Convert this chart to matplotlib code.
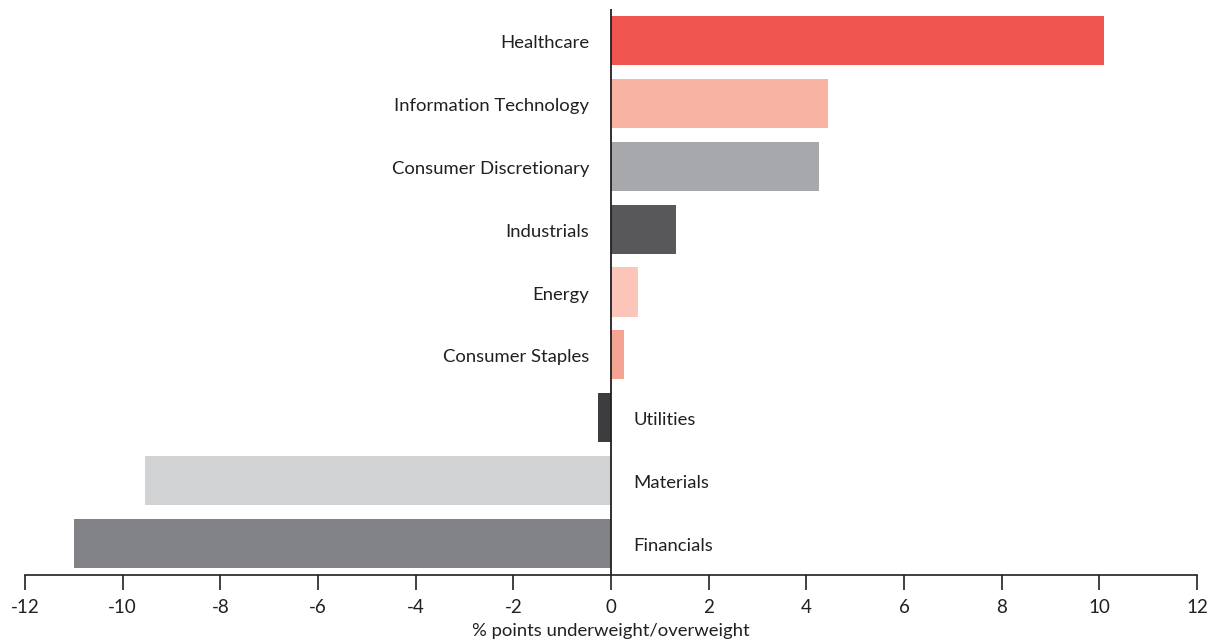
import matplotlib
matplotlib.use('Agg')
import matplotlib.pyplot as plt

# sector over/underweight, % points
sectors = ['Healthcare', 'Information Technology', 'Consumer Discretionary',
           'Industrials', 'Energy', 'Consumer Staples', 'Utilities',
           'Materials', 'Financials']
values = [10.1, 4.45, 4.25, 1.33, 0.55, 0.27, -0.27, -9.55, -11.0]
colours = ['#F05550', '#F9B3A3', '#A7A8AB', '#58585A', '#FBC5B9',
           '#F5A392', '#3D3D3F', '#D1D2D4', '#818285']
ticks = list(range(-12, 13, 2))

plt.rcParams['font.family'] = ['Lato', 'DejaVu Sans']

fig = plt.figure(figsize=(12.16, 6.44), dpi=100)
ax = fig.add_axes([0.0206, 0.1071, 0.9638, 0.8789])

ypos = range(len(sectors))
ax.barh(ypos, values, height=0.78, color=colours, zorder=2)
ax.axvline(0, color='#231F20', lw=1.3, zorder=3)

for y, name, v in zip(ypos, sectors, values):
    if v >= 0:
        ax.text(-0.45, y + 0.04, name, ha='right', va='center', fontsize=13.3,
                color='#231F20')
    else:
        ax.text(0.45, y + 0.04, name, ha='left', va='center', fontsize=13.3,
                color='#231F20')

ax.set_xlim(-12, 12)
ax.set_ylim(8.5, -0.5)
ax.set_xticks(ticks)
ax.set_xticklabels([str(t) for t in ticks], fontsize=13.5, color='#231F20')
ax.set_yticks([])
ax.tick_params(axis='x', length=11, width=1.2, color='#231F20', pad=6)
for s in ['left', 'right', 'top']:
    ax.spines[s].set_visible(False)
ax.spines['bottom'].set_linewidth(1.2)
ax.spines['bottom'].set_color('#231F20')
ax.set_xlabel('% points underweight/overweight', fontsize=13.3,
              color='#231F20', labelpad=5)

fig.savefig('out.png', dpi=100)
